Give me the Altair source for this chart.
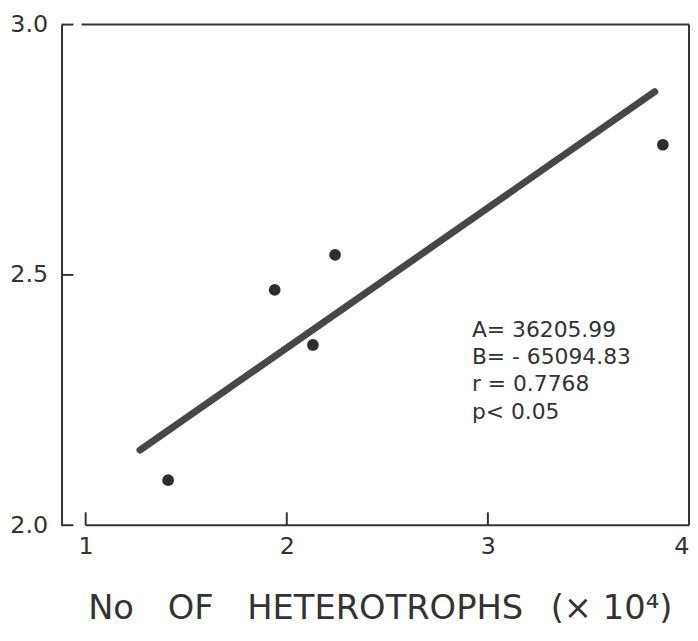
import altair as alt
import pandas as pd

# ---- data ----
points_x = [1.41, 1.94, 2.13, 2.24, 3.87]
points_y = [2.09, 2.47, 2.36, 2.54, 2.76]

fit_x = [1.27, 3.83]
fit_y = [2.15, 2.866]

x_ticks = [1, 2, 3, 4]
y_ticks = [2.0, 2.5, 3.0]
x_inner_ticks = [1, 2, 3]

stats_lines = ["A= 36205.99", "B= - 65094.83", "r = 0.7768", "p< 0.05"]

x_title = "No\u2003OF\u2003HETEROTROPHS\u2002\u00a0(× 10⁴)"

# frame segments (data coords)
h_x1 = [1.0, 0.98]
h_x2 = [4.0, 4.0]
h_y = [2.0, 3.0]
v_x = [4.0]
v_y1 = [2.0]
v_y2 = [3.0]

FONT = "DejaVu Sans"
INK = "#333333"
W, H = 633, 505

x_scale = alt.Scale(domain=[0.88, 4.0], nice=False, zero=False)
y_scale = alt.Scale(domain=[2.0, 3.0], nice=False, zero=False)

pts = pd.DataFrame({"x": points_x, "y": points_y})
fit = pd.DataFrame({"x": fit_x, "y": fit_y})
hf = pd.DataFrame({"x1": h_x1, "x2": h_x2, "y": h_y})
vf = pd.DataFrame({"x": v_x, "y1": v_y1, "y2": v_y2})
yt = pd.DataFrame({"v": y_ticks})
xt = pd.DataFrame({"v": x_inner_ticks})

x_axis = alt.Axis(values=x_ticks, format="d", domain=False, ticks=False, tickSize=0,
                  grid=False, labelFlush=True, labelPadding=10,
                  labelFont=FONT, labelFontSize=24, labelColor=INK,
                  title=x_title, titleFont=FONT, titleFontSize=34,
                  titleFontWeight="normal", titleColor=INK, titlePadding=33,
                  titleX=321)
y_axis = alt.Axis(values=y_ticks, format=".1f", domain=True, domainColor=INK,
                  domainWidth=2, ticks=False, tickSize=0, grid=False,
                  labelFlush=False, labelPadding=14,
                  labelFont=FONT, labelFontSize=24, labelColor=INK, title=None)


def X(field):
    return alt.X(field, scale=x_scale, axis=x_axis)


def Y(field):
    return alt.Y(field, scale=y_scale, axis=y_axis)


line = alt.Chart(fit).mark_line(color="#474747", strokeWidth=7, strokeCap="round").encode(
    x=X("x:Q"), y=Y("y:Q"),
)

points = alt.Chart(pts).mark_circle(size=140, color="#2e2e2e", opacity=1).encode(
    x=X("x:Q"), y=Y("y:Q"),
)

hrules = alt.Chart(hf).mark_rule(color=INK, strokeWidth=2).encode(
    x=X("x1:Q"), x2="x2:Q", y=Y("y:Q"),
)

vrules = alt.Chart(vf).mark_rule(color=INK, strokeWidth=2).encode(
    x=X("x:Q"), y=Y("y1:Q"), y2="y2:Q",
)

ytick_marks = alt.Chart(yt).mark_rule(color=INK, strokeWidth=2).encode(
    y=Y("v:Q"),
    x=alt.value(0),
    x2=alt.value(12),
)

xtick_marks = alt.Chart(xt).mark_rule(color=INK, strokeWidth=2).encode(
    x=X("v:Q"),
    y=alt.value(H),
    y2=alt.value(H - 13),
)

stats = alt.Chart(pd.DataFrame({"k": [0]})).mark_text(
    align="left", baseline="alphabetic", font=FONT, fontSize=22,
    lineHeight=27.5, color=INK,
).encode(
    x=alt.value(414),
    y=alt.value(315),
    text=alt.value(stats_lines),
)

chart = alt.layer(line, points, hrules, vrules, ytick_marks, xtick_marks, stats).properties(
    width=W, height=H,
    autosize=alt.AutoSizeParams(type="none"),
    padding={"left": 54, "top": 14, "right": 1, "bottom": 106},
).configure_view(stroke=None)

chart.save("out.html", embed_options={"renderer": "svg", "actions": False})
